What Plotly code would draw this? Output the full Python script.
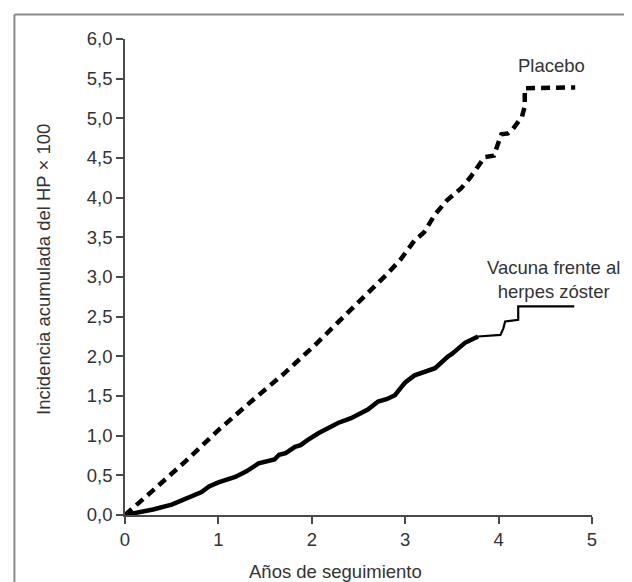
import plotly.graph_objects as go

# ---- data ----
placebo_x = [0, 0.1, 0.3, 0.65, 1.0, 1.35, 1.7, 2.05, 2.4, 2.6, 2.8, 2.95, 3.1, 3.2, 3.32,
             3.45, 3.6, 3.7, 3.85, 3.95, 4.03, 4.1, 4.15, 4.21, 4.25, 4.28, 4.28, 4.82]
placebo_y = [0, 0.1, 0.31, 0.68, 1.07, 1.43, 1.78, 2.16, 2.58, 2.80, 3.03, 3.22, 3.46, 3.56, 3.79,
             3.97, 4.12, 4.26, 4.51, 4.53, 4.80, 4.81, 4.86, 4.96, 5.02, 5.15, 5.38, 5.39]

vacuna_x = [0, 0.15, 0.3, 0.5, 0.65, 0.82, 0.9, 1.0, 1.18, 1.3, 1.43, 1.6, 1.65, 1.72, 1.82,
            1.88, 1.95, 2.07, 2.28, 2.42, 2.6, 2.71, 2.8, 2.89, 2.95, 3.0, 3.1, 3.32, 3.46,
            3.5, 3.57, 3.64, 3.78,
            3.98, 4.02, 4.05, 4.07, 4.21, 4.21, 4.81]
vacuna_y = [0, 0.03, 0.07, 0.13, 0.21, 0.29, 0.36, 0.41, 0.48, 0.55, 0.65, 0.70, 0.76, 0.78, 0.86,
            0.88, 0.94, 1.03, 1.16, 1.22, 1.33, 1.43, 1.46, 1.51, 1.60, 1.67, 1.76, 1.85, 2.00,
            2.03, 2.10, 2.17, 2.25,
            2.27, 2.27, 2.35, 2.44, 2.46, 2.63, 2.63]
vacuna_split = 32  # index where the thinner step tail begins

x_ticks = [0, 1, 2, 3, 4, 5]
x_ticktext = ["0", "1", "2", "3", "4", "5"]
y_ticks = [0, 0.5, 1, 1.5, 2, 2.5, 3, 3.5, 4, 4.5, 5, 5.5, 6]
y_ticktext = ["0,0", "0,5", "1,0", "1,5", "2,0", "2,5", "3,0", "3,5", "4,0", "4,5", "5,0", "5,5", "6,0"]

x_title = "Años de seguimiento"
y_title = "Incidencia acumulada del HP × 100"
label_placebo = "Placebo"
label_vacuna = "Vacuna frente al<br>herpes zóster"

FONT = "Liberation Sans, Arial, Helvetica, sans-serif"
TXT = "#333333"
AX = "#4a4a4a"
FS = 18.5

fig = go.Figure()
fig.add_trace(go.Scatter(x=vacuna_x[:vacuna_split + 1], y=vacuna_y[:vacuna_split + 1],
                         mode="lines", line=dict(color="black", width=4.5), showlegend=False))
fig.add_trace(go.Scatter(x=vacuna_x[vacuna_split:], y=vacuna_y[vacuna_split:],
                         mode="lines", line=dict(color="black", width=2.2), showlegend=False))
fig.add_trace(go.Scatter(x=placebo_x, y=placebo_y, mode="lines",
                         line=dict(color="black", width=4.5, dash="9px,6px"), showlegend=False))

fig.update_layout(
    width=632, height=582,
    margin=dict(l=117, r=48, t=31, b=75),
    paper_bgcolor="white", plot_bgcolor="white",
    font=dict(family=FONT, size=FS, color=TXT),
    xaxis=dict(range=[0, 5], tickvals=x_ticks, ticktext=x_ticktext, showgrid=False, zeroline=False,
               showline=True, linecolor=AX, linewidth=1.5, ticks="outside", ticklen=7,
               tickwidth=1.5, tickcolor=AX, tickfont=dict(size=FS, color=TXT)),
    yaxis=dict(range=[0, 6], tickvals=y_ticks, ticktext=y_ticktext, showgrid=False, zeroline=False,
               showline=True, linecolor=AX, linewidth=1.5, ticks="outside", ticklen=7,
               tickwidth=1.5, tickcolor=AX, tickfont=dict(size=FS, color=TXT)),
    annotations=[
        dict(text=x_title, xref="paper", yref="paper", x=0.451, y=-0.118, showarrow=False,
             xanchor="center", yanchor="middle", font=dict(size=FS, color=TXT)),
        dict(text=y_title, xref="paper", yref="paper", x=-0.176, y=0.5165, showarrow=False,
             textangle=-90, xanchor="center", yanchor="middle", font=dict(size=FS, color=TXT)),
        dict(text=label_placebo, xref="x", yref="y", x=4.564, y=5.66, showarrow=False,
             xanchor="center", yanchor="middle", font=dict(size=FS, color=TXT)),
        dict(text=label_vacuna, xref="x", yref="y", x=4.586, y=2.964, showarrow=False,
             xanchor="center", yanchor="middle", font=dict(size=FS, color=TXT)),
    ],
    shapes=[
        dict(type="line", xref="paper", yref="paper", x0=-0.2368, x1=1.2, y0=1.0515, y1=1.0515,
             line=dict(color="#8a8a8a", width=2)),
        dict(type="line", xref="paper", yref="paper", x0=-0.2368, x1=-0.2368, y0=-0.2, y1=1.0515,
             line=dict(color="#8a8a8a", width=2)),
    ],
)

fig.write_html("out.html")
